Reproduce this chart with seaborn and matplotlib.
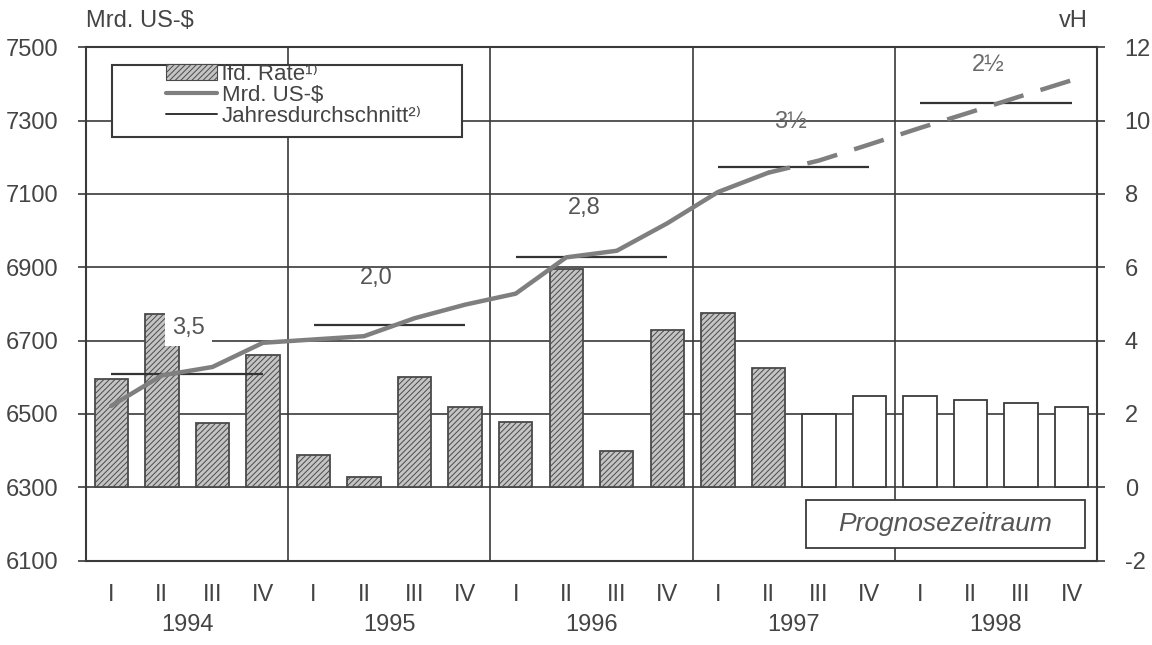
import numpy as np
import pandas as pd
import matplotlib
matplotlib.use("Agg")
import matplotlib.pyplot as plt
import seaborn as sns
from matplotlib.patches import Patch, Rectangle
from matplotlib.lines import Line2D
import matplotlib.transforms as mtransforms

# ---- data ----
years = ["1994", "1995", "1996", "1997", "1998"]
quarters = ["I", "II", "III", "IV"]

# quarterly rate, vH (right axis)
rate = [2.95, 4.72, 1.76, 3.61,
        0.88, 0.29, 3.02, 2.20,
        1.77, 5.94, 1.00, 4.30,
        4.76, 3.26, 2.00, 2.48,
        2.48, 2.39, 2.29, 2.19]

# level, Mrd. US-$ (left axis)
level = [6522, 6605, 6628, 6694,
         6703, 6712, 6761, 6798,
         6828, 6927, 6945, 7020,
         7105, 7158, 7191, 7235,
         7280, 7323, 7367, 7410]

# first forecast quarter (1997 III)
first_forecast = 14

# annual average level (Mrd. US-$) and annual rate labels
avg_level = [6609, 6743, 6929, 7173, 7347]
avg_label = ["3,5", "2,0", "2,8", "3½", "2½"]
label_x = [1.53, 5.25, 9.36, 13.44, 17.34]
label_y = [6734, 6871, 7062, 7296, 7451]

n = len(rate)
pos = np.arange(n)
df = pd.DataFrame({
    "pos": pos,
    "rate": rate,
    "level": level,
    "quarter": quarters * len(years),
})

text_col = "#444444"
grid_col = "#3a3a3a"

sns.set_style("white")
plt.rcParams["font.family"] = ["Liberation Sans", "DejaVu Sans"]
plt.rcParams["hatch.linewidth"] = 0.7
plt.rcParams["axes.unicode_minus"] = False

fig = plt.figure(figsize=(11.52, 6.45), dpi=100)
ax = fig.add_axes([0.0747, 0.1309, 0.8775, 0.7958])
ax2 = ax.twinx()

# bars on the vH scale
sns.barplot(data=df, x="pos", y="rate", ax=ax, color="#bdbdbd",
            width=0.66, order=list(pos), zorder=2)
for i, bar in enumerate(ax.patches):
    if i < first_forecast:
        bar.set_facecolor("#c4c4c4")
        bar.set_hatch("//////")
        bar.set_edgecolor("#4a4a4a")
    else:
        bar.set_facecolor("white")
        bar.set_edgecolor("#3a3a3a")
    bar.set_linewidth(1.3)

ax.set_xlim(-0.5, n - 0.5)
ax.set_ylim(-2, 12)
ax.set_yticks(np.arange(-2, 13, 2))
ax.set_xlabel("")
ax.set_ylabel("")

# x axis: quarter labels, year boundary ticks
ax.set_xticks(pos)
ax.set_xticklabels(df["quarter"])
ax.set_xticks(np.arange(3.5, n - 1, 4), minor=True)
ax.tick_params(axis="x", which="major", length=0, pad=17,
               labelsize=17, labelcolor=text_col)
ax.tick_params(axis="x", which="minor", length=9, width=1.2,
               direction="out", color=grid_col)

# grid
ax.set_axisbelow(True)
for v in np.arange(0, 11, 2):
    ax.axhline(v, color=grid_col, lw=1.2, zorder=0)
for v in np.arange(3.5, n - 1, 4):
    ax.axvline(v, color=grid_col, lw=1.2, zorder=0)

for s in ax.spines.values():
    s.set_color(grid_col)
    s.set_linewidth(1.5)

# year labels
trans = mtransforms.blended_transform_factory(ax.transData, ax.transAxes)
for k, y in enumerate(years):
    ax.text(4 * k + 1.5, -0.125, y, transform=trans, ha="center",
            va="center", fontsize=17, color=text_col)

# level line on the Mrd. US-$ scale
line_col = "#7f7f7f"
solid = df[df["pos"] <= first_forecast - 1]
dashed = df[df["pos"] >= first_forecast - 1]
sns.lineplot(data=solid, x="pos", y="level", ax=ax2, color=line_col,
             lw=3.2, zorder=5)
sns.lineplot(data=dashed, x="pos", y="level", ax=ax2, color=line_col,
             lw=3.2, zorder=5, dashes=False, linestyle=(2, (7, 4)))
ax2.set_xlim(-0.5, n - 0.5)
ax2.set_ylim(6100, 7500)
ax2.set_yticks(np.arange(6100, 7501, 200))
ax2.set_xlabel("")
ax2.set_ylabel("")
for s in ax2.spines.values():
    s.set_visible(False)

# rate ticks on the right, level ticks on the left
ax.yaxis.tick_right()
ax2.yaxis.tick_left()
for a in (ax, ax2):
    a.tick_params(axis="y", length=6, width=1.2, color=grid_col,
                  labelsize=17, labelcolor=text_col, pad=14)

# annual averages and labels
for k in range(len(years)):
    ax2.hlines(avg_level[k], 4 * k, 4 * k + 3, color="#333333",
               lw=1.6, zorder=4)
for k in range(len(years)):
    kw = {}
    if k == 0:
        kw["bbox"] = dict(facecolor="white", edgecolor="none", pad=5)
    ax2.text(label_x[k], label_y[k], avg_label[k], ha="center",
             va="center", fontsize=17,
             color="#6a6a6a" if k >= 3 else "#555555", zorder=6, **kw)

# legend
ax2.add_patch(Rectangle((0.026, 0.826), 0.346, 0.139,
                        transform=ax2.transAxes, facecolor="white",
                        edgecolor=grid_col, lw=1.5, zorder=7))
handles = [
    Patch(facecolor="#c4c4c4", edgecolor="#4a4a4a", hatch="//////",
          lw=0.8),
    Line2D([], [], color=line_col, lw=3),
    Line2D([], [], color="#333333", lw=1.4),
]
labels = ["lfd. Rate¹⁾", "Mrd. US-$", "Jahresdurchschnitt²⁾"]
leg = ax2.legend(handles, labels, loc="upper left",
                 bbox_to_anchor=(0.075, 0.977), frameon=False,
                 fontsize=16, handlelength=2.3, handleheight=0.75,
                 handletextpad=0.2, labelspacing=0.0,
                 borderaxespad=0.0, borderpad=0.2)
leg.set_zorder(8)
for t in leg.get_texts():
    t.set_color(text_col)

# forecast period box
ax2.add_patch(Rectangle((0.712, 0.024), 0.276, 0.094,
                        transform=ax2.transAxes, facecolor="white",
                        edgecolor=grid_col, lw=1.3, zorder=7))
ax2.text(0.85, 0.071, "Prognosezeitraum", transform=ax2.transAxes,
         ha="center", va="center", fontsize=19, style="italic",
         color="#555555", zorder=8)

# axis unit labels
fig.text(86 / 1152, 1 - 21 / 645, "Mrd. US-$", ha="left", va="center",
         fontsize=17, color=text_col)
fig.text(1088 / 1152, 1 - 21 / 645, "vH", ha="right", va="center",
         fontsize=17, color=text_col)

fig.savefig("out.png", dpi=100)
